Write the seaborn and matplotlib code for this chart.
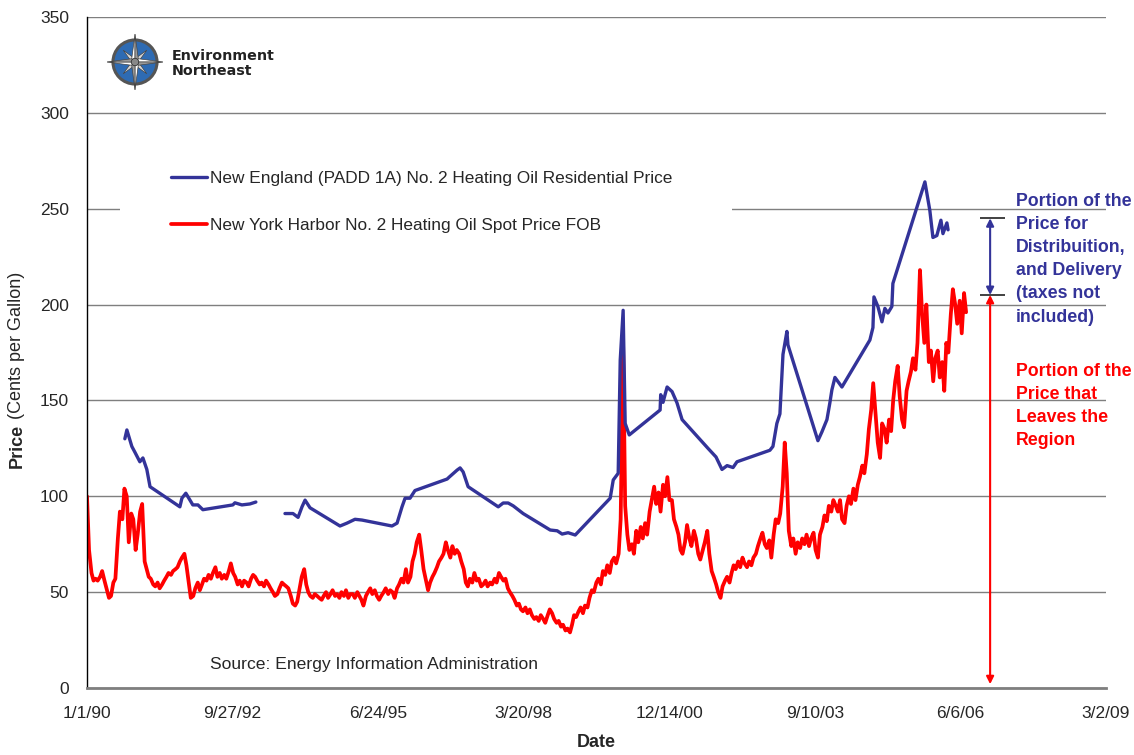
import matplotlib
matplotlib.use("Agg")
import matplotlib.pyplot as plt
import matplotlib.patches as mpatches
from matplotlib.lines import Line2D
import numpy as np
import pandas as pd
import seaborn as sns

# New York Harbor No. 2 heating oil spot price (cents/gal), read semi-monthly from the chart
r1990 = [100, 72, 60, 56, 57, 56, 58, 61, 56, 52, 47, 48, 55, 57, 78, 92, 88, 104, 100, 76, 91, 88, 72, 80]
r1991 = [92, 96, 66, 62, 58, 57, 54, 53, 55, 52, 54, 56, 58, 60, 59, 61, 62, 63, 66, 68, 70, 64, 55, 47]
r1992 = [48, 52, 55, 51, 54, 57, 56, 59, 57, 60, 63, 58, 60, 57, 59, 57, 61, 65, 60, 58, 54, 56, 53, 56]
r1993 = [55, 53, 57, 59, 58, 56, 54, 55, 53, 56, 54, 52, 50, 48, 49, 52, 55, 54, 53, 52, 48, 44, 43, 45]
r1994 = [52, 58, 62, 54, 50, 48, 47, 49, 48, 47, 46, 48, 50, 47, 49, 51, 48, 49, 47, 50, 48, 51, 47, 49]
r1995 = [49, 47, 50, 48, 46, 43, 48, 50, 52, 49, 51, 48, 46, 48, 50, 52, 49, 51, 50, 47, 52, 54, 57, 55]
r1996 = [62, 55, 58, 66, 70, 76, 80, 72, 62, 57, 51, 55, 58, 60, 63, 66, 68, 70, 76, 72, 68, 74, 70, 72]
r1997 = [70, 66, 62, 55, 53, 57, 55, 60, 56, 57, 53, 54, 56, 53, 55, 54, 57, 55, 60, 58, 56, 57, 52, 50]
r1998 = [48, 46, 43, 44, 41, 40, 42, 39, 41, 38, 36, 37, 35, 38, 36, 34, 38, 41, 39, 36, 34, 35, 32, 33]
r1999 = [30, 31, 29, 33, 38, 37, 40, 42, 39, 43, 42, 47, 51, 50, 55, 57, 54, 61, 59, 64, 60, 66, 68, 65]
r2000 = [70, 88, 178, 95, 80, 72, 75, 70, 82, 76, 84, 78, 86, 80, 92, 98, 105, 96, 102, 92, 106, 100, 110, 98]
r2001 = [98, 88, 84, 80, 72, 70, 76, 85, 78, 74, 82, 78, 70, 67, 72, 76, 82, 70, 61, 58, 54, 50, 47, 53]
r2002 = [56, 58, 55, 60, 64, 62, 66, 63, 68, 65, 63, 66, 64, 68, 70, 74, 78, 81, 75, 73, 77, 68, 80, 88]
r2003 = [86, 91, 105, 128, 112, 82, 74, 78, 70, 76, 73, 78, 75, 80, 74, 78, 81, 72, 68, 80, 84, 90, 87, 95]
r2004 = [92, 98, 95, 92, 98, 88, 86, 95, 100, 96, 104, 98, 106, 110, 116, 112, 122, 135, 145, 159, 142, 128, 120, 138]
r2005 = [135, 128, 140, 134, 150, 160, 168, 152, 140, 136, 155, 160, 165, 172, 166, 180, 218, 196, 180, 200, 170, 176, 160, 172]
r2006 = [176, 162, 170, 155, 180, 175, 195, 208, 200, 190, 202, 185, 206, 196]

# New England residential price (heating seasons only), two runs split by the 1993 data gap
blue_dates_a = ["1990-09-18", "1990-10-02", "1990-11-05", "1990-11-26", "1990-12-30", "1991-01-20",
                "1991-02-16", "1991-03-10", "1991-10-01", "1991-10-15", "1991-11-11", "1991-12-29",
                "1992-02-02", "1992-03-07", "1992-09-29", "1992-10-13", "1992-11-30", "1993-01-24",
                "1993-03-06"]
blue_vals_a = [130, 134.6, 126, 123, 118, 120, 114, 105, 94.5, 99, 101.6, 95.5, 95.5, 93, 95.5, 96.6,
               95.5, 96, 97]
blue_dates_b = ["1993-09-22", "1993-11-16", "1993-12-21", "1994-01-17", "1994-02-07", "1994-03-13",
                "1994-10-05", "1994-11-22", "1995-01-16", "1995-03-05", "1995-09-27", "1995-11-01",
                "1995-12-05", "1995-12-26", "1996-01-29", "1996-03-03", "1996-10-10", "1996-10-24",
                "1996-12-18", "1997-01-07", "1997-01-28", "1997-03-03", "1997-09-26", "1997-10-30",
                "1997-12-03", "1998-01-07", "1998-03-16", "1998-09-18", "1998-11-05", "1998-12-09",
                "1999-01-19", "1999-03-09", "1999-11-04", "1999-11-25", "1999-12-29", "2000-01-12",
                "2000-02-01", "2000-02-15", "2000-03-14", "2000-10-12", "2000-10-16", "2000-11-01",
                "2000-11-29", "2001-01-02", "2001-02-05", "2001-03-12", "2001-09-06", "2001-10-31",
                "2001-12-11", "2002-01-15", "2002-02-25", "2002-03-24", "2002-11-05", "2002-11-26",
                "2002-12-23", "2003-01-13", "2003-02-03", "2003-03-02", "2003-03-09", "2003-10-01",
                "2003-10-28", "2003-12-02", "2003-12-22", "2004-01-05", "2004-01-26", "2004-03-14",
                "2004-09-22", "2004-10-13", "2004-10-20", "2004-11-16", "2004-12-14", "2005-01-03",
                "2005-01-24", "2005-02-20", "2005-02-27", "2005-10-05", "2005-11-08", "2005-11-29",
                "2005-12-26", "2006-01-23", "2006-02-06", "2006-03-05", "2006-03-13"]
blue_vals_b = [91, 91, 89, 94.5, 98, 94, 84.5, 86, 88, 87.6, 84.5, 86, 94.5, 99, 99, 103, 109, 110,
               113.7, 114.8, 112.7, 105, 94.5, 96.5, 96.5, 95, 91, 82.4, 82, 80.3, 81, 79.8, 99, 108.5,
               112, 171, 197, 138, 132, 145, 153, 149, 157, 154.6, 148.7, 140, 125, 120.5, 114, 116,
               115, 118, 124, 126, 138, 143, 174, 186, 179, 129, 133.5, 140, 148.7, 155.5, 162, 157,
               181.5, 188, 204, 199, 191, 198, 195.6, 199, 211, 264, 249, 235, 236, 244, 237, 242.6, 239]

tick_labels = ["1/1/90", "9/27/92", "6/24/95", "3/20/98", "12/14/00", "9/10/03", "6/6/06", "3/2/09"]
blue_label = "New England (PADD 1A) No. 2 Heating Oil Residential Price"
red_label = "New York Harbor No. 2 Heating Oil Spot Price FOB"

BLUE = "#333399"
RED = "#ff0000"
GRID = "#7f7f7f"

red_vals = (r1990 + r1991 + r1992 + r1993 + r1994 + r1995 + r1996 + r1997 + r1998 + r1999
            + r2000 + r2001 + r2002 + r2003 + r2004 + r2005 + r2006)
red_df = pd.DataFrame({"date": pd.date_range("1990-01-01", periods=len(red_vals), freq="SMS"),
                       "price": red_vals})
blue_df = pd.DataFrame({
    "date": pd.to_datetime(blue_dates_a + blue_dates_b),
    "price": blue_vals_a + blue_vals_b,
    "segment": [0] * len(blue_dates_a) + [1] * len(blue_dates_b),
})

sns.set_style("white")
plt.rcParams["font.family"] = ["Liberation Sans", "DejaVu Sans"]

W, H = 1134, 755
fig = plt.figure(figsize=(W / 100, H / 100), dpi=100)
ax = fig.add_axes([87 / W, 1 - 688 / H, (1106 - 87) / W, (688 - 17) / H])

sns.lineplot(data=red_df, x="date", y="price", color=RED, linewidth=2.7, ax=ax)
sns.lineplot(data=blue_df, x="date", y="price", units="segment", estimator=None,
             color=BLUE, linewidth=2.4, ax=ax)

start = pd.Timestamp("1990-01-01")
ticks = [start + pd.Timedelta(days=1000 * k) for k in range(len(tick_labels))]
ax.set_xlim(ticks[0], ticks[-1])
ax.set_ylim(0, 350)
ax.set_xticks(ticks)
ax.set_xticklabels(tick_labels)
ax.set_yticks(np.arange(0, 351, 50))
ax.tick_params(axis="x", direction="out", length=5, width=1, color=GRID, pad=8, labelsize=12.5)
ax.tick_params(axis="y", direction="out", length=5, width=1, color=GRID, pad=8, labelsize=12.5)
ax.grid(axis="y", color=GRID, linewidth=1)
ax.set_axisbelow(True)
for side in ["top", "right"]:
    ax.spines[side].set_visible(False)
ax.spines["left"].set_color("black")
ax.spines["left"].set_linewidth(1)
ax.spines["bottom"].set_color(GRID)
ax.spines["bottom"].set_linewidth(2)

ax.set_xlabel("Date", fontsize=13, fontweight="bold", labelpad=9)
ax.set_ylabel("")
price_txt = ax.text(-0.0687, 0.328, "Price", rotation=90, fontsize=13, fontweight="bold",
                    ha="center", va="bottom", transform=ax.transAxes)
ax.annotate(" (Cents per Gallon)", xy=(0.5, 1.0), xycoords=price_txt, rotation=90,
            fontsize=13, ha="center", va="bottom")

handles = [Line2D([], [], color=BLUE, linewidth=2.4), Line2D([], [], color=RED, linewidth=2.7)]
leg = ax.legend(handles, [blue_label, red_label], loc="center",
                bbox_to_anchor=(0.0324, 0.7245, 0.6006, 0), mode="expand", borderaxespad=0,
                fontsize=12.4, frameon=True, facecolor="white", edgecolor="none", framealpha=1,
                borderpad=2.95, labelspacing=1.85, handlelength=2.1, handletextpad=0.2)

# portion arrows at the right
xa = pd.Timestamp("2006-12-27")
ax.annotate("", xy=(xa, 205), xytext=(xa, 245),
            arrowprops=dict(arrowstyle="<|-|>", color=BLUE, lw=1.5, mutation_scale=11,
                            shrinkA=0, shrinkB=0))
ax.annotate("", xy=(xa, 2), xytext=(xa, 205),
            arrowprops=dict(arrowstyle="<|-|>", color=RED, lw=1.5, mutation_scale=11,
                            shrinkA=0, shrinkB=0))
ax.hlines([245, 205], pd.Timestamp("2006-10-17"), pd.Timestamp("2007-04-07"),
          color="#333333", linewidth=1.3)

fig.text(1016 / W, 1 - 193 / H, "Portion of the\nPrice for\nDistribuition,\nand Delivery\n(taxes not\nincluded)",
         color=BLUE, fontsize=12.8, fontweight="bold", ha="left", va="top", linespacing=1.47)
fig.text(1016 / W, 1 - 363 / H, "Portion of the\nPrice that\nLeaves the\nRegion",
         color=RED, fontsize=12.8, fontweight="bold", ha="left", va="top", linespacing=1.47)

fig.text(210 / W, 1 - 665 / H, "Source: Energy Information Administration",
         fontsize=12.6, ha="left", va="center")

# logo
lax = fig.add_axes([106 / W, 1 - 91 / H, 58 / W, 58 / H])
lax.set_xlim(-1.25, 1.25)
lax.set_ylim(-1.25, 1.25)
lax.set_aspect("equal")
lax.axis("off")
lax.add_patch(mpatches.Circle((0, 0), 0.95, facecolor="#2e6bb3", edgecolor="#555555", linewidth=2.2))
for ang in [45, 135, 225, 315]:
    a = np.radians(ang)
    pts = [(0.72 * np.cos(a), 0.72 * np.sin(a)),
           (0.14 * np.cos(a + np.pi / 4), 0.14 * np.sin(a + np.pi / 4)),
           (0, 0),
           (0.14 * np.cos(a - np.pi / 4), 0.14 * np.sin(a - np.pi / 4))]
    lax.add_patch(mpatches.Polygon(pts, closed=True, facecolor="#d8d8d8", edgecolor="#444444", linewidth=0.5))
for ang in [0, 90, 180, 270]:
    a = np.radians(ang)
    tip = (1.2 * np.cos(a), 1.2 * np.sin(a))
    left = (0.2 * np.cos(a + np.pi / 4), 0.2 * np.sin(a + np.pi / 4))
    right = (0.2 * np.cos(a - np.pi / 4), 0.2 * np.sin(a - np.pi / 4))
    lax.add_patch(mpatches.Polygon([tip, left, (0, 0)], closed=True, facecolor="white",
                                   edgecolor="#444444", linewidth=0.5))
    lax.add_patch(mpatches.Polygon([tip, right, (0, 0)], closed=True, facecolor="#9a9a9a",
                                   edgecolor="#444444", linewidth=0.5))
lax.add_patch(mpatches.Circle((0, 0), 0.16, facecolor="#888888", edgecolor="#333333", linewidth=0.6))

fig.text(172 / W, 1 - 56 / H, "Environment", family="DejaVu Sans", fontweight="bold",
         fontsize=10.3, color="#222222", ha="left", va="center")
fig.text(172 / W, 1 - 71 / H, "Northeast", family="DejaVu Sans", fontweight="bold",
         fontsize=10.3, color="#222222", ha="left", va="center")

fig.savefig("out.png", dpi=100)
plt.close()
